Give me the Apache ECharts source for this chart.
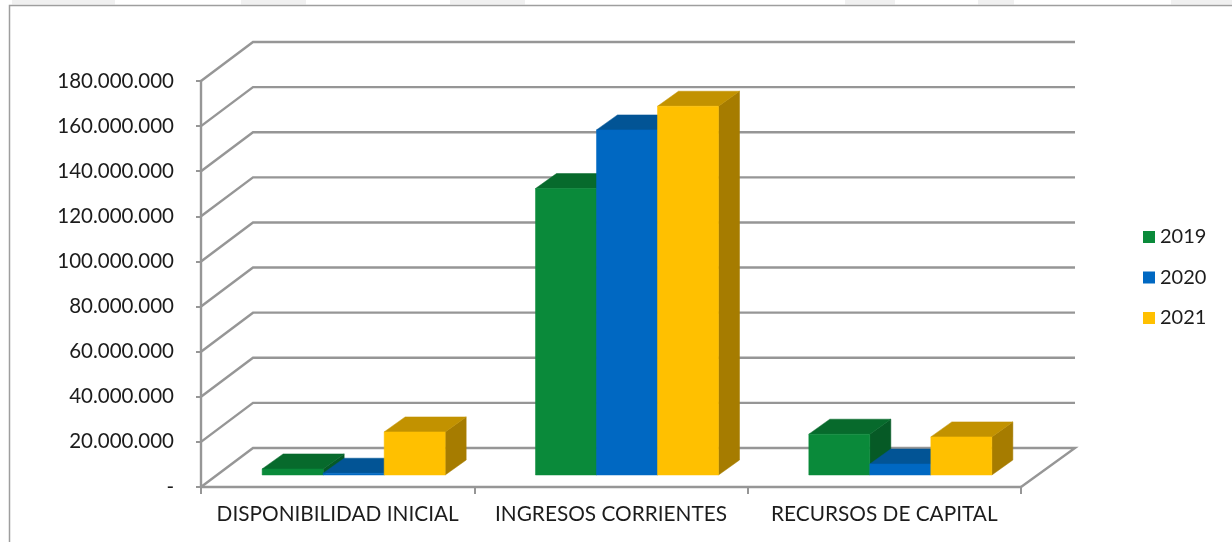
<!DOCTYPE html>
<html><head><meta charset="utf-8">
<style>html,body{margin:0;padding:0;background:#fff}#c{width:1232px;height:542px}</style>
<script src="https://cdn.jsdelivr.net/npm/echarts@6/dist/echarts.min.js"></script>
</head><body><div id="c"></div>
<script>
const categories = ['DISPONIBILIDAD INICIAL', 'INGRESOS CORRIENTES', 'RECURSOS DE CAPITAL'];
const years = ['2019', '2020', '2021'];
const values2019 = [2700000, 127000000, 18100000];
const values2020 = [800000, 153000000, 4900000];
const values2021 = [19100000, 163500000, 16900000];
const gridValues = [0, 20000000, 40000000, 60000000, 80000000, 100000000, 120000000, 140000000, 160000000, 180000000];
const frontColors = ['#0A8A3A', '#0068C2', '#FFC000'];
const topColors = ['#076A2C', '#025495', '#C29200'];
const sideColors = ['#065A26', '#02457C', '#A67C00'];
const FONT = 'Lato';
const wallDX = 52, wallDXRight = 54, wallDY = -39, barInX = 16, barInY = -12, barDX = 21, barDY = -15;
const stripPatches = [[12, 103], [241, 65], [450, 75], [845, 50], [978, 36], [1171, 61]];

const chart = echarts.init(document.getElementById('c'), null, {renderer: 'canvas'});

function wallItem(params, api) {
  const p = api.coord([0, api.value(0)]);
  const x0 = params.coordSys.x, x1 = x0 + params.coordSys.width;
  const y = p[1];
  const style = {stroke: '#969696', lineWidth: 2.4, fill: null};
  const pts = [[x0, y], [x0 + wallDX, y + wallDY], [x1 + wallDXRight, y + wallDY]];
  if (api.value(0) === 0) pts.push([x1, y]);
  return {type: 'polyline', shape: {points: pts}, style: style, silent: true};
}

function barItem(idx) {
  return function (params, api) {
    const cat = api.value(0);
    const top = api.coord([cat, api.value(1)]);
    const base = api.coord([cat, 0]);
    const w = api.size([1, 0])[0] * 0.2232;
    const xl = top[0] + (idx - 1.5) * w + barInX;
    const xr = xl + w;
    const yt = top[1] + barInY;
    const yb = base[1] + barInY;
    const poly = (pts, fill) => ({type: 'polygon', shape: {points: pts}, style: {fill: fill, stroke: fill, lineWidth: 0.5}});
    return {type: 'group', children: [
      poly([[xr, yt], [xr + barDX, yt + barDY], [xr + barDX, yb + barDY], [xr, yb]], sideColors[idx]),
      poly([[xl, yt], [xr, yt], [xr + barDX, yt + barDY], [xl + barDX, yt + barDY]], topColors[idx]),
      poly([[xl, yt], [xr, yt], [xr, yb], [xl, yb]], frontColors[idx])
    ]};
  };
}

const dataSets = [values2019, values2020, values2021];
chart.setOption({
  animation: false,
  backgroundColor: '#fff',
  textStyle: {fontFamily: FONT},
  grid: {left: 201, right: 211, top: 81, bottom: 55, containLabel: false},
  legend: {
    orient: 'vertical', left: 1138, top: 222, itemWidth: 12, itemHeight: 12, itemGap: 20.5, icon: 'rect',
    data: years, textStyle: {fontFamily: FONT, fontSize: 20, color: '#1c1c1c'}
  },
  xAxis: {
    type: 'category', data: categories, boundaryGap: true,
    axisLine: {lineStyle: {color: '#969696', width: 2.4}},
    axisTick: {show: true, length: 7, lineStyle: {color: '#969696', width: 2}},
    axisLabel: {fontFamily: FONT, fontSize: 20.8, color: '#1c1c1c', margin: 17, interval: 0},
    splitLine: {show: false}
  },
  yAxis: {
    type: 'value', min: 0, max: 180000000, interval: 20000000,
    axisLine: {show: true, lineStyle: {color: '#969696', width: 2.4}},
    axisTick: {show: true, length: 5, lineStyle: {color: '#969696', width: 2}},
    splitLine: {show: false},
    axisLabel: {
      fontFamily: FONT, fontSize: 20.5, color: '#1c1c1c', margin: 27, padding: [2, 0, 0, 0],
      formatter: v => v === 0 ? '-' : String(v).replace(/\B(?=(\d{3})+$)/g, '.')
    }
  },
  series: [
    {type: 'custom', name: 'grid', coordinateSystem: 'cartesian2d', silent: true, z: 1,
      data: gridValues.map(v => [v]), encode: {y: 0}, renderItem: wallItem}
  ].concat(years.map((y, i) => ({
    type: 'custom', name: y, coordinateSystem: 'cartesian2d', z: 2 + i,
    itemStyle: {color: frontColors[i]},
    encode: {x: 0, y: 1},
    data: categories.map((c, k) => [k, dataSets[i][k]]),
    renderItem: barItem(i)
  }))),
  graphic: [
    {type: 'polyline', shape: {points: [[9.5, 542], [9.5, 5.5], [1232, 5.5]]}, style: {stroke: '#9E9E9E', lineWidth: 1.5, fill: null}, z: 10}
  ].concat(stripPatches.map(p => ({type: 'rect', shape: {x: p[0], y: 0, width: p[1], height: 4.5}, style: {fill: '#F0F0F0'}, z: 9})))
});
</script></body></html>
